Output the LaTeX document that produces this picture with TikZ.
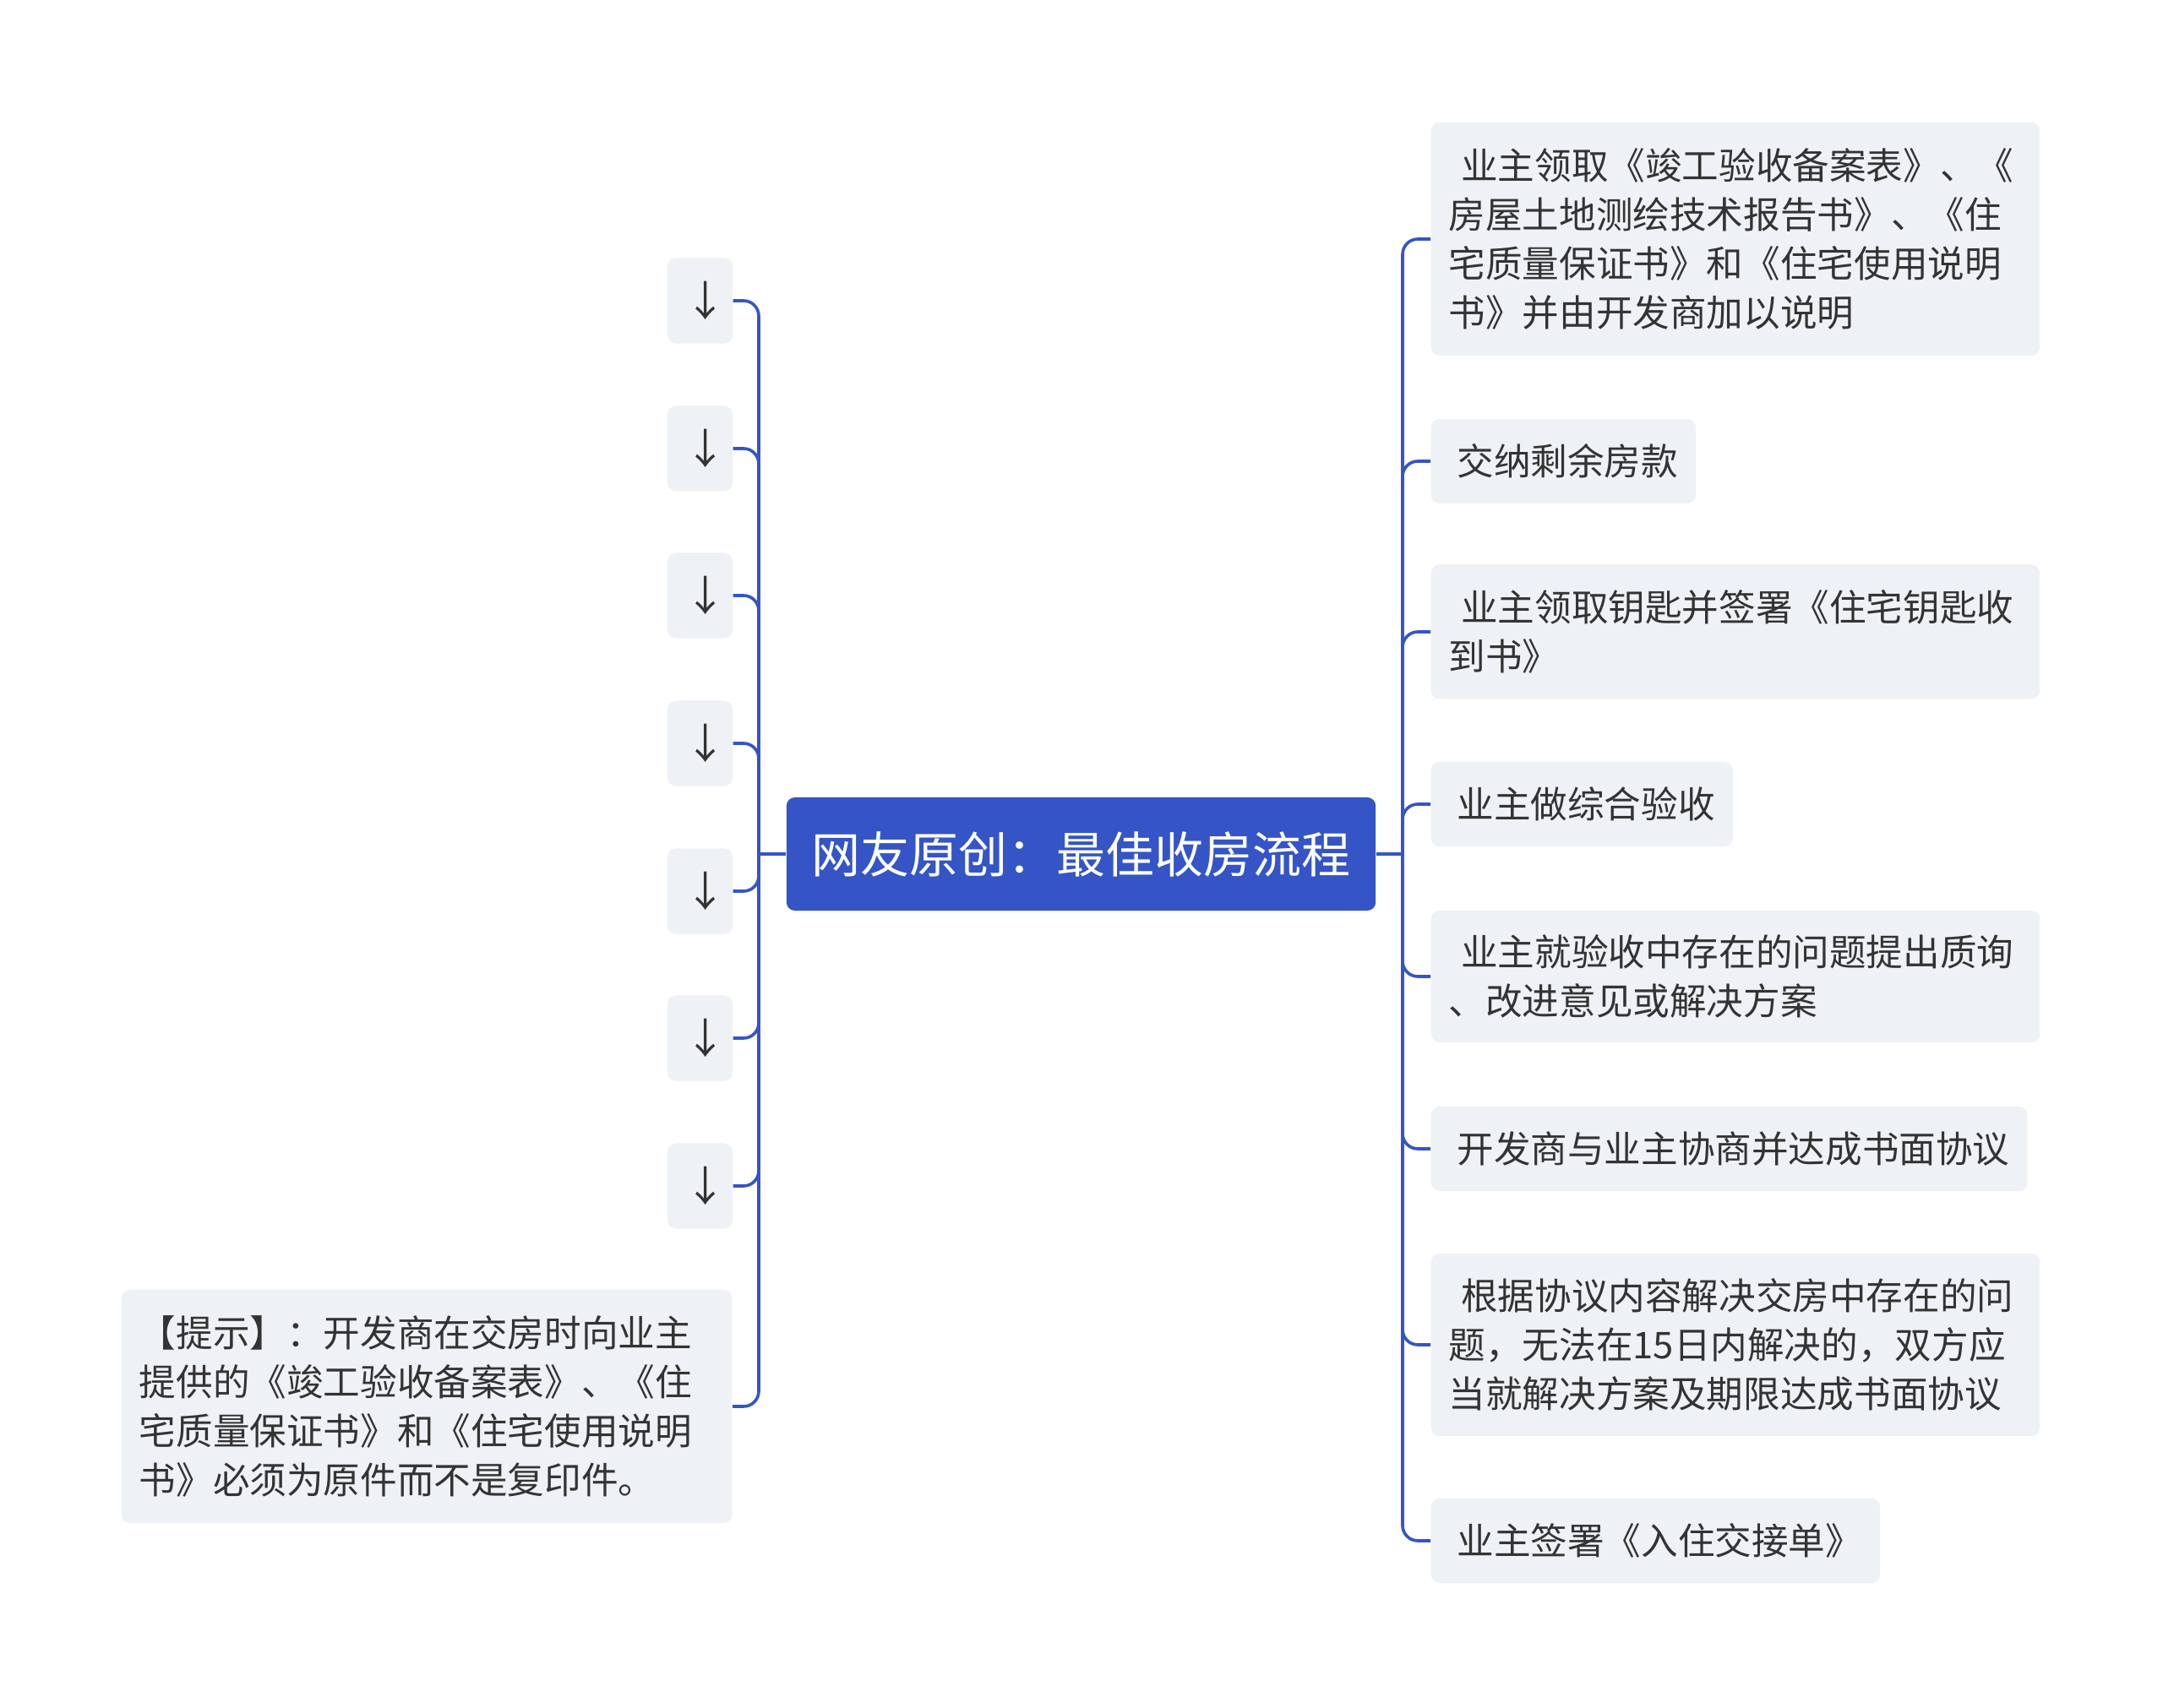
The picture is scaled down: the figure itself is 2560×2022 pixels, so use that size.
\documentclass[tikz,border=0pt]{standalone}
\usepackage{fontspec}
\newfontfamily\cjk{Noto Sans CJK SC}
\usepackage{tikz}
\usetikzlibrary{calc}
\definecolor{linkblue}{HTML}{3555C6}
\definecolor{boxgray}{HTML}{EEF1F5}
\definecolor{inkgray}{HTML}{333333}

\begin{document}
\begin{tikzpicture}[x=0.01cm, y=-0.01cm,
        root/.style={fill=linkblue, text=white, rounded corners=0.1cm, minimum width=6.97cm, minimum height=1.34cm, font=\cjk\fontsize{16.5pt}{20pt}\selectfont},
        topic/.style={fill=boxgray, text=inkgray, rounded corners=0.1cm, inner xsep=0.21cm, inner ysep=0cm, minimum height=1cm, align=left, font=\cjk\fontsize{12.4pt}{16.5pt}\selectfont},
        arrowbox/.style={topic, align=center, inner xsep=0cm, minimum width=0.77cm, minimum height=1.01cm, font=\cjk\fontsize{14pt}{16.5pt}\selectfont},
        link/.style={draw=linkblue, line width=0.036cm, rounded corners=0.18cm}]
        \path[use as bounding box, fill=white] (0,0) rectangle (2560,2022);
        \node[root] (O) at (1279.5,1011) {网友原创：最佳收房流程};
        \coordinate (P) at (1660,1011);
        \coordinate (Q) at (898,1011);
        % right side
        \node[topic, anchor=west, text width=6.78cm, minimum height=2.76cm] (B1) at (1693,283) {~业主领取《竣工验收备案表》、《\\房屋土地测绘技术报告书》、《住\\宅质量保证书》和《住宅使用说明\\书》并由开发商加以说明};
        \node[topic, anchor=west] (B2) at (1693,546) {~交纳剩余房款};
        \node[topic, anchor=west, text width=6.78cm, minimum height=1.59cm] (B3) at (1693,748) {~业主领取钥匙并签署《住宅钥匙收\\到书》};
        \node[topic, anchor=west] (B4) at (1693,952) {~业主做综合验收};
        \node[topic, anchor=west, text width=6.78cm, minimum height=1.56cm] (B5) at (1693,1156) {~业主就验收中存在的问题提出质询\\、改进意见或解决方案};
        \node[topic, anchor=west] (B6) at (1693,1360) {~开发商与业主协商并达成书面协议};
        \node[topic, anchor=west, text width=6.78cm, minimum height=2.16cm] (B7) at (1693,1592) {~根据协议内容解决交房中存在的问\\题，无法在15日内解决的，双方应\\当就解决方案及期限达成书面协议};
        \node[topic, anchor=west] (B8) at (1693,1824) {~业主签署《入住交接单》};
        % left side
        \node[arrowbox] (A1) at (828.5,356) {\hspace*{0.14cm}↓};
        \node[arrowbox] (A2) at (828.5,531) {\hspace*{0.14cm}↓};
        \node[arrowbox] (A3) at (828.5,705) {\hspace*{0.14cm}↓};
        \node[arrowbox] (A4) at (828.5,880) {\hspace*{0.14cm}↓};
        \node[arrowbox] (A5) at (828.5,1055) {\hspace*{0.14cm}↓};
        \node[arrowbox] (A6) at (828.5,1229) {\hspace*{0.14cm}↓};
        \node[arrowbox] (A7) at (828.5,1404) {\hspace*{0.14cm}↓};
        \node[topic, anchor=east, text width=6.8cm, minimum height=2.76cm] (H) at (867,1665) {【提示】：开发商在交房时向业主\\提供的《竣工验收备案表》、《住\\宅质量保证书》和《住宅使用说明\\书》必须为原件而不是复印件。};
        % links
        \draw[link] (O.east) -- (P);
        \draw[link] (P) |- (B1.west);
        \draw[link] (P) |- (B2.west);
        \draw[link] (P) |- (B3.west);
        \draw[link] (P) |- (B4.west);
        \draw[link] (P) |- (B5.west);
        \draw[link] (P) |- (B6.west);
        \draw[link] (P) |- (B7.west);
        \draw[link] (P) |- (B8.west);
        \draw[link] (O.west) -- (Q);
        \draw[link] (Q) |- (A1.east);
        \draw[link] (Q) |- (A2.east);
        \draw[link] (Q) |- (A3.east);
        \draw[link] (Q) |- (A4.east);
        \draw[link] (Q) |- (A5.east);
        \draw[link] (Q) |- (A6.east);
        \draw[link] (Q) |- (A7.east);
        \draw[link] (Q) |- (H.east);
    \end{tikzpicture}
\end{document}
